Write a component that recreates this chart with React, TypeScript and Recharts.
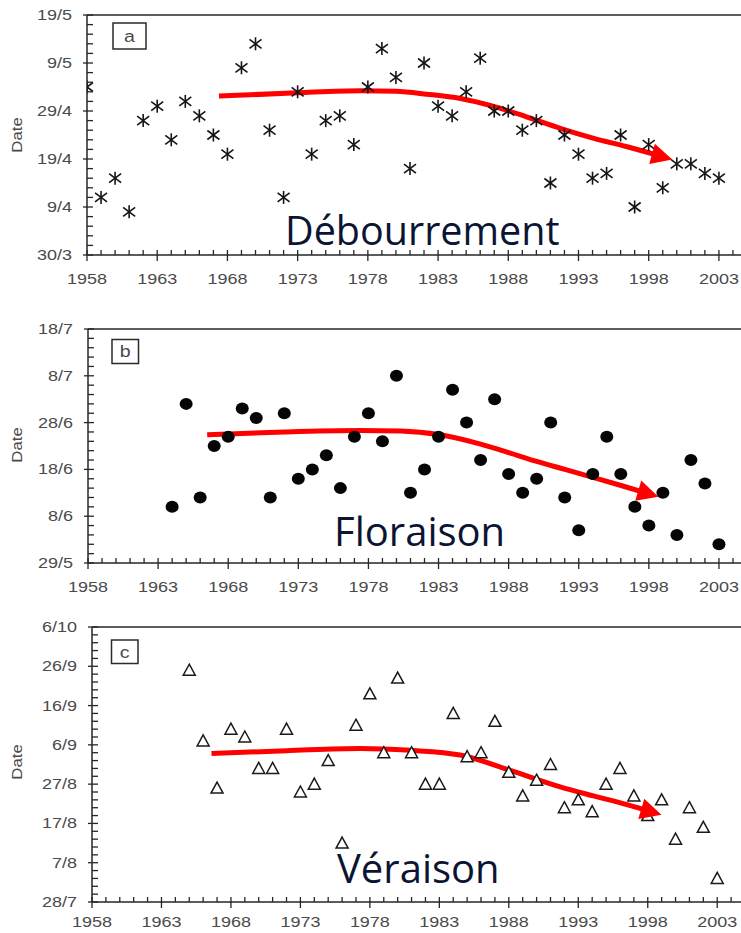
import React from 'react';
import { ComposedChart, Scatter, Line, XAxis, YAxis, ReferenceLine } from 'recharts';

// ---------- data (dates stored as day-of-year) ----------
const yearsA = [1958, 1959, 1960, 1961, 1962, 1963, 1964, 1965, 1966, 1967, 1968, 1969, 1970, 1971, 1972, 1973, 1974, 1975, 1976, 1977, 1978, 1979, 1980, 1981, 1982, 1983, 1984, 1985, 1986, 1987, 1988, 1989, 1990, 1991, 1992, 1993, 1994, 1995, 1996, 1997, 1998, 1999, 2000, 2001, 2002, 2003];
const debourrement = [124, 101, 105, 98, 117, 120, 113, 121, 118, 114, 110, 128, 133, 115, 101, 123, 110, 117, 118, 112, 124, 132, 126, 107, 129, 120, 118, 123, 130, 119, 119, 115, 117, 104, 114, 110, 105, 106, 114, 99, 112, 103, 108, 108, 106, 105];

const yearsB = [1964, 1965, 1966, 1967, 1968, 1969, 1970, 1971, 1972, 1973, 1974, 1975, 1976, 1977, 1978, 1979, 1980, 1981, 1982, 1983, 1984, 1985, 1986, 1987, 1988, 1989, 1990, 1991, 1992, 1993, 1994, 1995, 1996, 1997, 1998, 1999, 2000, 2001, 2002, 2003];
const floraison = [161, 183, 163, 174, 176, 182, 180, 163, 181, 167, 169, 172, 165, 176, 181, 175, 189, 164, 169, 176, 186, 179, 171, 184, 168, 164, 167, 179, 163, 156, 168, 176, 168, 161, 157, 164, 155, 171, 166, 153];

const yearsC = [1965, 1966, 1967, 1968, 1969, 1970, 1971, 1972, 1973, 1974, 1975, 1976, 1977, 1978, 1979, 1980, 1981, 1982, 1983, 1984, 1985, 1986, 1987, 1988, 1989, 1990, 1991, 1992, 1993, 1994, 1995, 1996, 1997, 1998, 1999, 2000, 2001, 2002, 2003];
const veraison = [268, 250, 238, 253, 251, 243, 243, 253, 237, 239, 245, 224, 254, 262, 247, 266, 247, 239, 239, 257, 246, 247, 255, 242, 236, 240, 244, 233, 235, 232, 239, 243, 236, 231, 235, 225, 233, 228, 215];

// trend curves (read from the red arrows)
const trendYearsA = [1967.4, 1973, 1977.5, 1980, 1982.2, 1984.6, 1986.9, 1989.3, 1991.7, 1994.1, 1996.4, 1999.2];
const trendA = [122.1, 122.8, 123.2, 123.1, 122.5, 121.6, 120.0, 117.8, 115.4, 113.3, 111.6, 109.3];
const trendYearsB = [1966.5, 1972, 1977.4, 1980.3, 1983.1, 1986, 1988, 1990, 1992, 1994, 1996.2, 1998.2];
const trendB = [176.4, 177.0, 177.3, 177.2, 176.4, 174.4, 172.6, 170.7, 169.0, 167.3, 165.4, 163.6];
const trendYearsC = [1966.6, 1972, 1977.3, 1980.9, 1984.5, 1988.1, 1991.7, 1994.1, 1996.5, 1998.5];
const trendC = [246.8, 247.5, 248.1, 247.6, 246.4, 242.5, 238.3, 236.0, 233.8, 231.7];

// axis ticks
const xMajorTicks = [1958, 1963, 1968, 1973, 1978, 1983, 1988, 1993, 1998, 2003];
const yMajorA = [89, 99, 109, 119, 129, 139];
const yLabelsA = ['30/3', '9/4', '19/4', '29/4', '9/5', '19/5'];
const yMajorB = [149, 159, 169, 179, 189, 199];
const yLabelsB = ['29/5', '8/6', '18/6', '28/6', '8/7', '18/7'];
const yMajorC = [209, 219, 229, 239, 249, 259, 269, 279];
const yLabelsC = ['28/7', '7/8', '17/8', '27/8', '6/9', '16/9', '26/9', '6/10'];

const X_MIN = 1958;
const X_MAX = 2005;

// ---------- helpers ----------
const toPoints = (xs: number[], ys: number[]) => xs.map((x, i) => ({ year: x, doy: ys[i] }));
const range = (a: number, b: number, step: number) => {
  const out: number[] = [];
  for (let v = a; v <= b + 1e-9; v += step) out.push(v);
  return out;
};

const AXIS = '#262626';
const LABEL = '#4a4a4a';
const RED = '#ff0000';
const FONT = "'Liberation Sans', Arial, sans-serif";

function makeXTick(labelOffset: number) {
  return function XTick(props: any) {
    const { x, y, payload } = props;
    const v = payload.value;
    const major = xMajorTicks.includes(v);
    return (
      <g>
        <line x1={x} x2={x} y1={y - 5} y2={major ? y + 6 : y} stroke={AXIS} strokeWidth={1.3} />
        {major && (
          <text
            transform={`translate(${x},${y + labelOffset}) scale(1.2,1)`}
            textAnchor="middle"
            fontFamily={FONT}
            fontSize={15}
            fill={LABEL}
          >
            {v}
          </text>
        )}
      </g>
    );
  };
}

function makeYTick(majors: number[], labels: string[]) {
  return function YTick(props: any) {
    const { x, y, payload } = props;
    const v = payload.value;
    const idx = majors.indexOf(v);
    const major = idx >= 0;
    return (
      <g>
        <line x1={major ? x - 4 : x} x2={x + 6} y1={y} y2={y} stroke={AXIS} strokeWidth={1.3} />
        {major && (
          <text
            transform={`translate(${x - 15},${y + 5}) scale(1.2,1)`}
            textAnchor="end"
            fontFamily={FONT}
            fontSize={15}
            fill={LABEL}
          >
            {labels[idx]}
          </text>
        )}
      </g>
    );
  };
}

function makeArrowDot(n: number) {
  const seen: Record<number, [number, number]> = {};
  return function ArrowDot(props: any) {
    const { cx, cy, index } = props;
    seen[index] = [cx, cy];
    if (index !== n - 1) return <g key={`ad${index}`} />;
    let prev: [number, number] | undefined;
    if (props.points && props.points[index - 1]) prev = [props.points[index - 1].x, props.points[index - 1].y];
    else prev = seen[index - 1];
    if (!prev) return <g key={`ad${index}`} />;
    let dx = cx - prev[0];
    let dy = cy - prev[1];
    const len = Math.hypot(dx, dy) || 1;
    dx /= len;
    dy /= len;
    const tx = cx + 7 * dx;
    const ty = cy + 7 * dy;
    const bx = tx - 21 * dx;
    const by = ty - 21 * dy;
    const nx = -dy;
    const ny = dx;
    const pts = `${tx},${ty} ${bx + 10.5 * nx},${by + 10.5 * ny} ${bx - 10.5 * nx},${by - 10.5 * ny}`;
    return <polygon key={`ad${index}`} points={pts} fill={RED} />;
  };
}

function Asterisk(props: any) {
  const { cx, cy } = props;
  if (cx == null || cy == null) return <g />;
  return (
    <g stroke="#151515" strokeWidth={1.6}>
      <line x1={cx} x2={cx} y1={cy - 6.5} y2={cy + 6.5} />
      <line x1={cx - 6} x2={cx + 6} y1={cy - 4.5} y2={cy + 4.5} />
      <line x1={cx - 6} x2={cx + 6} y1={cy + 4.5} y2={cy - 4.5} />
    </g>
  );
}

function Dot(props: any) {
  const { cx, cy } = props;
  if (cx == null || cy == null) return <g />;
  return <ellipse cx={cx} cy={cy} rx={6.5} ry={6} fill="#050505" />;
}

function Triangle(props: any) {
  const { cx, cy } = props;
  if (cx == null || cy == null) return <g />;
  const pts = `${cx},${cy - 6} ${cx + 6},${cy + 5} ${cx - 6},${cy + 5}`;
  return <polygon points={pts} fill="#ffffff" stroke="#1a1a1a" strokeWidth={1.5} strokeLinejoin="miter" />;
}

type PanelProps = {
  top: number;
  height: number;
  margin: { top: number; right: number; bottom: number; left: number };
  points: { year: number; doy: number }[];
  trend: { year: number; doy: number }[];
  yMajors: number[];
  yLabels: string[];
  labelOffset: number;
  shape: (p: any) => React.ReactElement;
};

function Panel({ top, height, margin, points, trend, yMajors, yLabels, labelOffset, shape }: PanelProps) {
  const yMin = yMajors[0];
  const yMax = yMajors[yMajors.length - 1];
  const xTicks = range(X_MIN, X_MAX - 1, 1);
  const yTicks = range(yMin, yMax, 2);
  const YTick = makeYTick(yMajors, yLabels);
  const XTick = makeXTick(labelOffset);
  const arrowDot = makeArrowDot(trend.length);
  return (
    <div style={{ position: 'absolute', left: 0, top, width: 760, height }}>
      <ComposedChart width={760} height={height} margin={margin}>
        <XAxis
          dataKey="year"
          type="number"
          domain={[X_MIN, X_MAX]}
          ticks={xTicks}
          interval={0}
          height={2}
          tickSize={0}
          tickMargin={0}
          tickLine={false}
          axisLine={{ stroke: AXIS, strokeWidth: 1.5 }}
          tick={(p: any) => <XTick {...p} />}
          allowDataOverflow
        />
        <YAxis
          dataKey="doy"
          type="number"
          domain={[yMin, yMax]}
          ticks={yTicks}
          interval={0}
          width={2}
          tickSize={0}
          tickMargin={0}
          tickLine={false}
          axisLine={{ stroke: AXIS, strokeWidth: 1.5 }}
          tick={(p: any) => <YTick {...p} />}
          allowDataOverflow
        />
        <ReferenceLine y={yMax} stroke={AXIS} strokeWidth={1.5} />
        <Scatter data={points} dataKey="doy" shape={shape} isAnimationActive={false} />
        <Line
          data={trend}
          dataKey="doy"
          type="monotone"
          stroke={RED}
          strokeWidth={5}
          dot={arrowDot}
          activeDot={false}
          isAnimationActive={false}
        />
      </ComposedChart>
    </div>
  );
}

export default function App() {
  const textFont = "'Open Sans', 'Noto Sans', sans-serif";
  const navy = '#0b1533';
  return (
    <div style={{ position: 'absolute', left: 0, top: 0, width: 741, height: 933, overflow: 'hidden', background: '#ffffff' }}>
      <Panel
        top={0}
        height={300}
        margin={{ top: 15, right: 13, bottom: 43, left: 85 }}
        points={toPoints(yearsA, debourrement)}
        trend={toPoints(trendYearsA, trendA)}
        yMajors={yMajorA}
        yLabels={yLabelsA}
        labelOffset={29}
        shape={(p: any) => <Asterisk {...p} />}
      />
      <Panel
        top={300}
        height={300}
        margin={{ top: 29, right: 13, bottom: 35, left: 86 }}
        points={toPoints(yearsB, floraison)}
        trend={toPoints(trendYearsB, trendB)}
        yMajors={yMajorB}
        yLabels={yLabelsB}
        labelOffset={29}
        shape={(p: any) => <Dot {...p} />}
      />
      <Panel
        top={600}
        height={333}
        margin={{ top: 27, right: 15, bottom: 29, left: 90 }}
        points={toPoints(yearsC, veraison)}
        trend={toPoints(trendYearsC, trendC)}
        yMajors={yMajorC}
        yLabels={yLabelsC}
        labelOffset={25}
        shape={(p: any) => <Triangle {...p} />}
      />
      <svg width={741} height={933} style={{ position: 'absolute', left: 0, top: 0, pointerEvents: 'none' }}>
        {/* y-axis titles */}
        <text transform="translate(22,135) rotate(-90) scale(1.2,1)" textAnchor="middle" fontFamily={FONT} fontSize={14} fill={LABEL}>Date</text>
        <text transform="translate(22,445) rotate(-90) scale(1.2,1)" textAnchor="middle" fontFamily={FONT} fontSize={14} fill={LABEL}>Date</text>
        <text transform="translate(22,762) rotate(-90) scale(1.2,1)" textAnchor="middle" fontFamily={FONT} fontSize={14} fill={LABEL}>Date</text>
        {/* panel letters */}
        <rect x={113} y={23} width={33} height={26} fill="#fff" stroke="#2a2a2a" strokeWidth={1.5} />
        <text transform="translate(129.5,41.5) scale(1.15,1)" textAnchor="middle" fontFamily={FONT} fontSize={17} fill={LABEL}>a</text>
        <rect x={112} y={339.5} width={26.5} height={24} fill="#fff" stroke="#2a2a2a" strokeWidth={1.5} />
        <text transform="translate(125.2,356.5) scale(1.15,1)" textAnchor="middle" fontFamily={FONT} fontSize={17} fill={LABEL}>b</text>
        <rect x={111.5} y={640} width={26.5} height={23.5} fill="#fff" stroke="#2a2a2a" strokeWidth={1.5} />
        <text transform="translate(124.7,657.5) scale(1.15,1)" textAnchor="middle" fontFamily={FONT} fontSize={17} fill={LABEL}>c</text>
        {/* stage names */}
        <text x={285} y={245} fontFamily={textFont} fontSize={39.5} fill={navy}>Débourrement</text>
        <text x={334} y={546} fontFamily={textFont} fontSize={40} fill={navy}>Floraison</text>
        <text x={337} y={883} fontFamily={textFont} fontSize={40} fill={navy}>Véraison</text>
      </svg>
    </div>
  );
}
